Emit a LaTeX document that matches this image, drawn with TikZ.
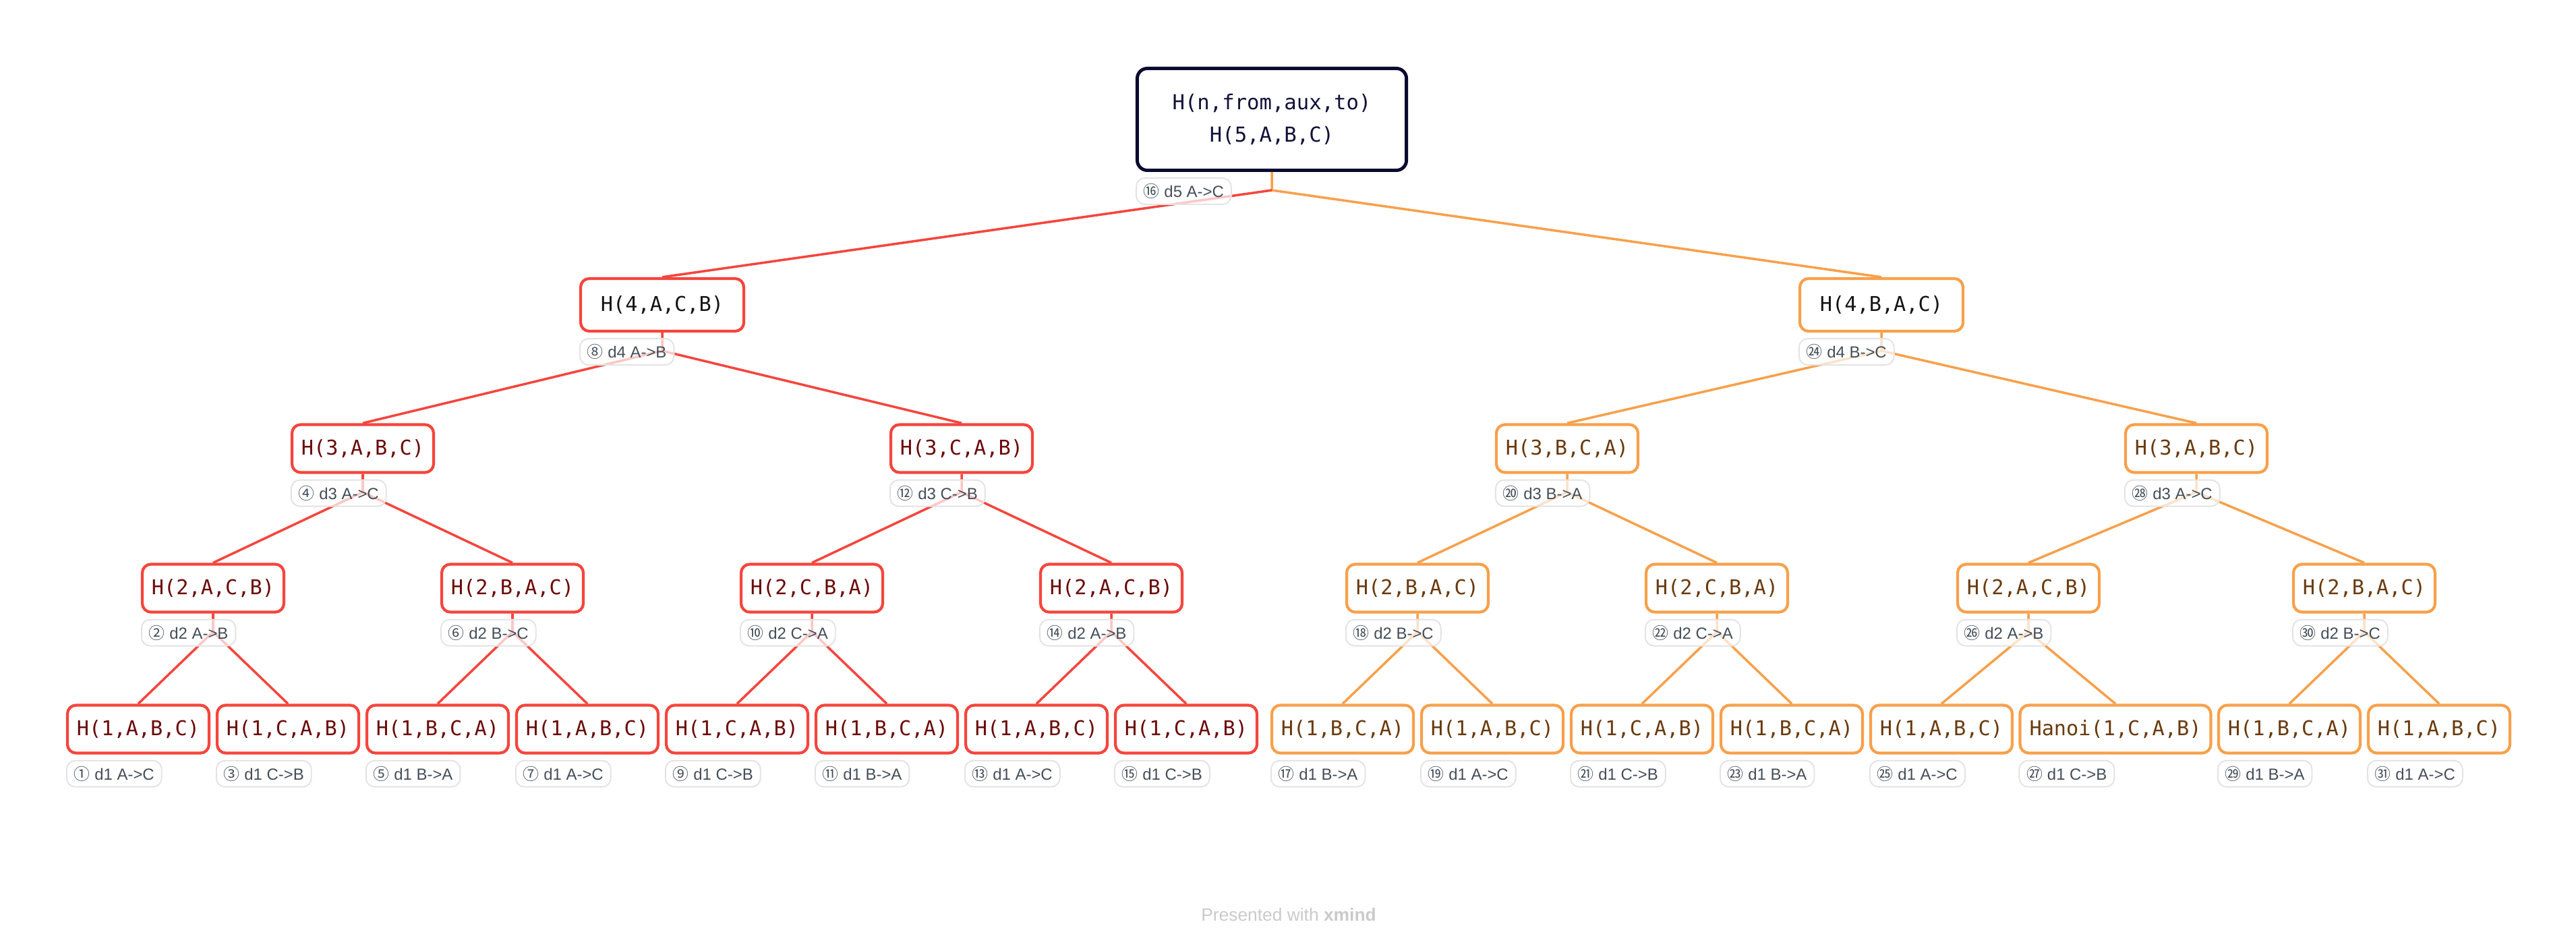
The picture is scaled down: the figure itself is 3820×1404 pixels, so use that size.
\documentclass[tikz,border=0pt]{standalone}
\usepackage{fontspec}
\setmainfont{Liberation Sans}
\newfontfamily\monofont{DejaVu Sans Mono}
\newfontfamily\cjk{Noto Sans CJK SC}
\usetikzlibrary{positioning}
\definecolor{Navy}{HTML}{0A0A30}
\definecolor{NavyText}{HTML}{10103A}
\definecolor{Ink}{HTML}{151515}
\definecolor{Red}{HTML}{F5453D}
\definecolor{Orange}{HTML}{F7A04B}
\definecolor{Maroon}{HTML}{6B0A0A}
\definecolor{Brown}{HTML}{6A3A0E}
\definecolor{TagLine}{HTML}{E3E3E3}
\definecolor{TagText}{HTML}{434D58}
\definecolor{Credit}{HTML}{CACACA}
\newcommand\circno[1]{{\cjk #1}}
\tikzset{
  rootbox/.style={rounded corners=1.5mm,draw=Navy,line width=1.4pt,fill=white,minimum width=39.9mm,minimum height=15.1mm,align=center,text=NavyText,font=\monofont\fontsize{8.7}{13.7}\selectfont},
  callbox/.style={rounded corners=1.3mm,line width=1.2pt,fill=white,inner xsep=1.4mm,inner ysep=0mm,minimum height=7.1mm,font=\monofont\fontsize{8.6}{10}\selectfont},
  redcall/.style={callbox,draw=Red,text=Maroon},
  orangecall/.style={callbox,draw=Orange,text=Brown},
  topcall/.style={callbox,inner xsep=3mm,minimum height=7.8mm,text=Ink},
  tag/.style={anchor=north west,rounded corners=1.3mm,draw=TagLine,line width=0.55pt,fill=white,fill opacity=0.7,text opacity=1,text=TagText,inner xsep=1.1mm,inner ysep=0.4mm,minimum height=3.9mm,font=\fontsize{6.8}{8}\selectfont},
  redline/.style={draw=Red,line width=1pt},
  orangeline/.style={draw=Orange,line width=1pt}
}
\begin{document}
\begin{tikzpicture}[x=0.01cm,y=-0.01cm]
  \useasboundingbox (0,0) rectangle (3820,1404);

  % calls
  \node[rootbox] (h5) at (1886,177) {H(n,from,aux,to)\\H(5,A,B,C)};

  \node[topcall,draw=Red] (h4a) at (982,452) {H(4,A,C,B)};
  \node[topcall,draw=Orange] (h4b) at (2790,452) {H(4,B,A,C)};

  \node[redcall] (h3a) at (538,665) {H(3,A,B,C)};
  \node[redcall] (h3b) at (1426,665) {H(3,C,A,B)};
  \node[orangecall] (h3c) at (2324,665) {H(3,B,C,A)};
  \node[orangecall] (h3d) at (3257,665) {H(3,A,B,C)};

  \node[redcall] (h2a) at (316,872) {H(2,A,C,B)};
  \node[redcall] (h2b) at (760,872) {H(2,B,A,C)};
  \node[redcall] (h2c) at (1204,872) {H(2,C,B,A)};
  \node[redcall] (h2d) at (1648,872) {H(2,A,C,B)};
  \node[orangecall] (h2e) at (2102,872) {H(2,B,A,C)};
  \node[orangecall] (h2f) at (2546,872) {H(2,C,B,A)};
  \node[orangecall] (h2g) at (3008,872) {H(2,A,C,B)};
  \node[orangecall] (h2h) at (3506,872) {H(2,B,A,C)};

  \node[redcall] (h1a) at (205,1081) {H(1,A,B,C)};
  \node[redcall] (h1b) at (427,1081) {H(1,C,A,B)};
  \node[redcall] (h1c) at (649,1081) {H(1,B,C,A)};
  \node[redcall] (h1d) at (871,1081) {H(1,A,B,C)};
  \node[redcall] (h1e) at (1093,1081) {H(1,C,A,B)};
  \node[redcall] (h1f) at (1315,1081) {H(1,B,C,A)};
  \node[redcall] (h1g) at (1537,1081) {H(1,A,B,C)};
  \node[redcall] (h1h) at (1759,1081) {H(1,C,A,B)};
  \node[orangecall] (h1i) at (1991,1081) {H(1,B,C,A)};
  \node[orangecall] (h1j) at (2213,1081) {H(1,A,B,C)};
  \node[orangecall] (h1k) at (2435,1081) {H(1,C,A,B)};
  \node[orangecall] (h1l) at (2657,1081) {H(1,B,C,A)};
  \node[orangecall] (h1m) at (2879,1081) {H(1,A,B,C)};
  \node[orangecall] (h1n) at (3137,1081) {Hanoi(1,C,A,B)};
  \node[orangecall] (h1o) at (3395,1081) {H(1,B,C,A)};
  \node[orangecall] (h1p) at (3617,1081) {H(1,A,B,C)};

  % branch points under each call
  \coordinate (j5) at ([yshift=-2.7mm]h5.south);
  \coordinate (j4a) at ([yshift=-2.7mm]h4a.south);
  \coordinate (j4b) at ([yshift=-2.7mm]h4b.south);
  \coordinate (j3a) at ([yshift=-2.7mm]h3a.south);
  \coordinate (j3b) at ([yshift=-2.7mm]h3b.south);
  \coordinate (j3c) at ([yshift=-2.7mm]h3c.south);
  \coordinate (j3d) at ([yshift=-2.7mm]h3d.south);
  \coordinate (j2a) at ([yshift=-2.7mm]h2a.south);
  \coordinate (j2b) at ([yshift=-2.7mm]h2b.south);
  \coordinate (j2c) at ([yshift=-2.7mm]h2c.south);
  \coordinate (j2d) at ([yshift=-2.7mm]h2d.south);
  \coordinate (j2e) at ([yshift=-2.7mm]h2e.south);
  \coordinate (j2f) at ([yshift=-2.7mm]h2f.south);
  \coordinate (j2g) at ([yshift=-2.7mm]h2g.south);
  \coordinate (j2h) at ([yshift=-2.7mm]h2h.south);

  \draw[orangeline] (h5.south) -- (j5) -- (h4b.north);
  \draw[redline] (j5) -- (h4a.north);
  \draw[redline] (h4a.south) -- (j4a) -- (h3a.north) (j4a) -- (h3b.north);
  \draw[orangeline] (h4b.south) -- (j4b) -- (h3c.north) (j4b) -- (h3d.north);
  \draw[redline] (h3a.south) -- (j3a) -- (h2a.north) (j3a) -- (h2b.north);
  \draw[redline] (h3b.south) -- (j3b) -- (h2c.north) (j3b) -- (h2d.north);
  \draw[orangeline] (h3c.south) -- (j3c) -- (h2e.north) (j3c) -- (h2f.north);
  \draw[orangeline] (h3d.south) -- (j3d) -- (h2g.north) (j3d) -- (h2h.north);
  \draw[redline] (h2a.south) -- (j2a) -- (h1a.north) (j2a) -- (h1b.north);
  \draw[redline] (h2b.south) -- (j2b) -- (h1c.north) (j2b) -- (h1d.north);
  \draw[redline] (h2c.south) -- (j2c) -- (h1e.north) (j2c) -- (h1f.north);
  \draw[redline] (h2d.south) -- (j2d) -- (h1g.north) (j2d) -- (h1h.north);
  \draw[orangeline] (h2e.south) -- (j2e) -- (h1i.north) (j2e) -- (h1j.north);
  \draw[orangeline] (h2f.south) -- (j2f) -- (h1k.north) (j2f) -- (h1l.north);
  \draw[orangeline] (h2g.south) -- (j2g) -- (h1m.north) (j2g) -- (h1n.north);
  \draw[orangeline] (h2h.south) -- (j2h) -- (h1o.north) (j2h) -- (h1p.north);

  % move tags
  \node[tag] (t5) at ([yshift=-0.8mm]h5.south west) {\circno{⑯} d5 A->C};
  \node[tag] (t4a) at ([yshift=-0.8mm]h4a.south west) {\circno{⑧} d4 A->B};
  \node[tag] (t4b) at ([yshift=-0.8mm]h4b.south west) {\circno{㉔} d4 B->C};
  \node[tag] (t3a) at ([yshift=-0.8mm]h3a.south west) {\circno{④} d3 A->C};
  \node[tag] (t3b) at ([yshift=-0.8mm]h3b.south west) {\circno{⑫} d3 C->B};
  \node[tag] (t3c) at ([yshift=-0.8mm]h3c.south west) {\circno{⑳} d3 B->A};
  \node[tag] (t3d) at ([yshift=-0.8mm]h3d.south west) {\circno{㉘} d3 A->C};
  \node[tag] (t2a) at ([yshift=-0.8mm]h2a.south west) {\circno{②} d2 A->B};
  \node[tag] (t2b) at ([yshift=-0.8mm]h2b.south west) {\circno{⑥} d2 B->C};
  \node[tag] (t2c) at ([yshift=-0.8mm]h2c.south west) {\circno{⑩} d2 C->A};
  \node[tag] (t2d) at ([yshift=-0.8mm]h2d.south west) {\circno{⑭} d2 A->B};
  \node[tag] (t2e) at ([yshift=-0.8mm]h2e.south west) {\circno{⑱} d2 B->C};
  \node[tag] (t2f) at ([yshift=-0.8mm]h2f.south west) {\circno{㉒} d2 C->A};
  \node[tag] (t2g) at ([yshift=-0.8mm]h2g.south west) {\circno{㉖} d2 A->B};
  \node[tag] (t2h) at ([yshift=-0.8mm]h2h.south west) {\circno{㉚} d2 B->C};
  \node[tag] (t1a) at ([yshift=-0.8mm]h1a.south west) {\circno{①} d1 A->C};
  \node[tag] (t1b) at ([yshift=-0.8mm]h1b.south west) {\circno{③} d1 C->B};
  \node[tag] (t1c) at ([yshift=-0.8mm]h1c.south west) {\circno{⑤} d1 B->A};
  \node[tag] (t1d) at ([yshift=-0.8mm]h1d.south west) {\circno{⑦} d1 A->C};
  \node[tag] (t1e) at ([yshift=-0.8mm]h1e.south west) {\circno{⑨} d1 C->B};
  \node[tag] (t1f) at ([yshift=-0.8mm]h1f.south west) {\circno{⑪} d1 B->A};
  \node[tag] (t1g) at ([yshift=-0.8mm]h1g.south west) {\circno{⑬} d1 A->C};
  \node[tag] (t1h) at ([yshift=-0.8mm]h1h.south west) {\circno{⑮} d1 C->B};
  \node[tag] (t1i) at ([yshift=-0.8mm]h1i.south west) {\circno{⑰} d1 B->A};
  \node[tag] (t1j) at ([yshift=-0.8mm]h1j.south west) {\circno{⑲} d1 A->C};
  \node[tag] (t1k) at ([yshift=-0.8mm]h1k.south west) {\circno{㉑} d1 C->B};
  \node[tag] (t1l) at ([yshift=-0.8mm]h1l.south west) {\circno{㉓} d1 B->A};
  \node[tag] (t1m) at ([yshift=-0.8mm]h1m.south west) {\circno{㉕} d1 A->C};
  \node[tag] (t1n) at ([yshift=-0.8mm]h1n.south west) {\circno{㉗} d1 C->B};
  \node[tag] (t1o) at ([yshift=-0.8mm]h1o.south west) {\circno{㉙} d1 B->A};
  \node[tag] (t1p) at ([yshift=-0.8mm]h1p.south west) {\circno{㉛} d1 A->C};

  \node[text=Credit,font=\fontsize{7.5}{9}\selectfont] (credit) at (1911,1356) {Presented with \textbf{xmind}};
\end{tikzpicture}
\end{document}
